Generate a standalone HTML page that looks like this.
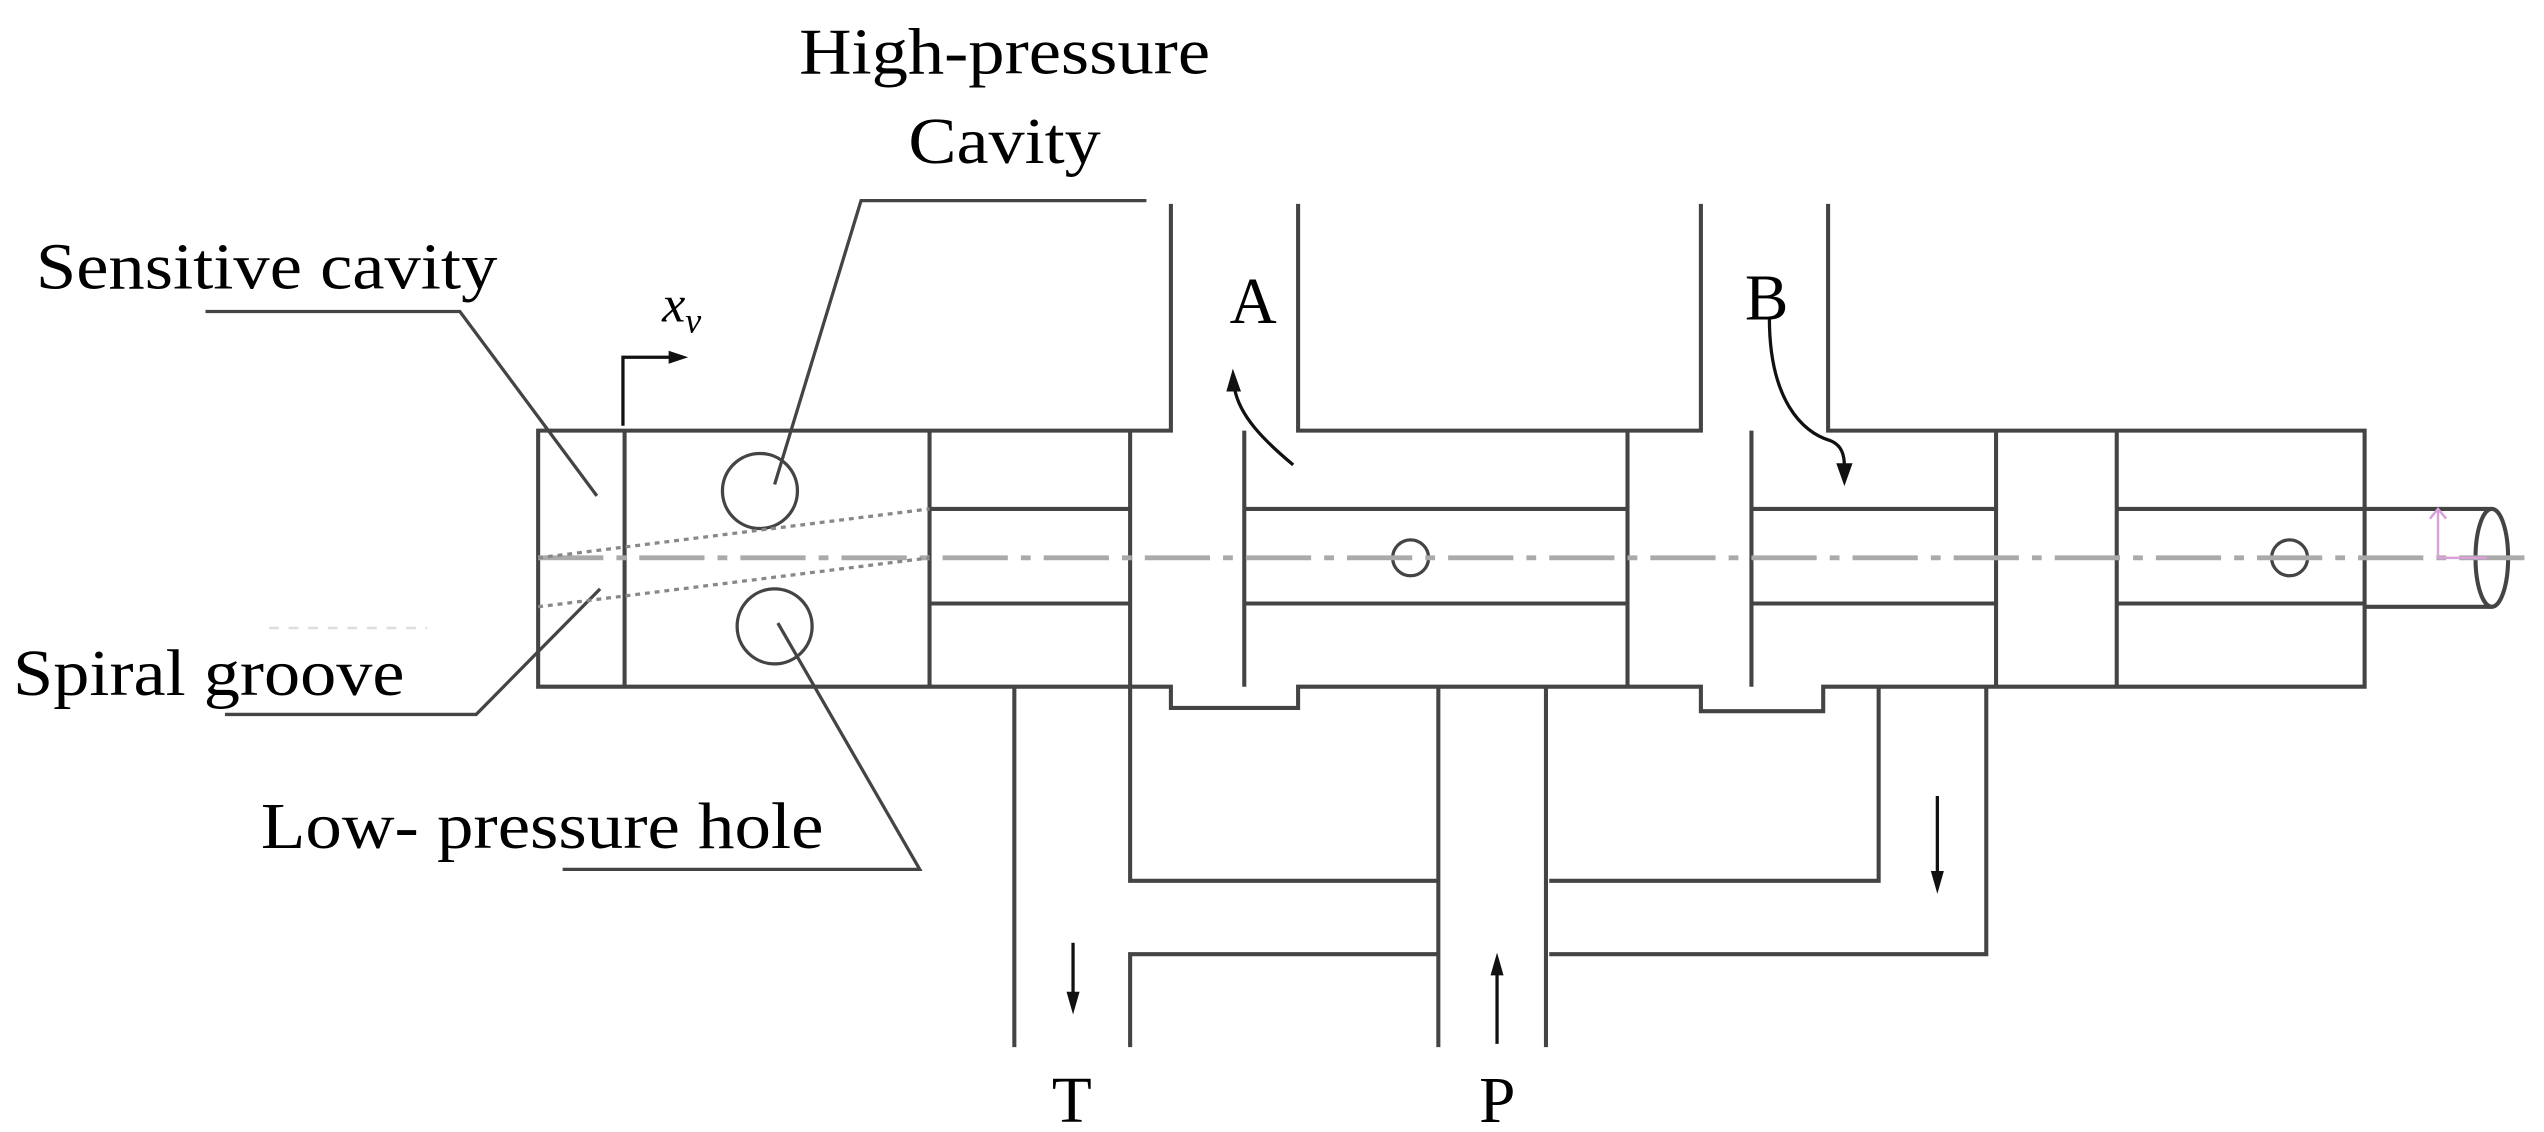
<!DOCTYPE html>
<html><head><meta charset="utf-8"><style>
html,body{margin:0;padding:0;background:#fff;}
svg{display:block;}
text{font-family:"Liberation Serif",serif;fill:#000;}
</style></head><body>
<svg width="2544" height="1132" viewBox="0 0 1560 694" preserveAspectRatio="none" xmlns="http://www.w3.org/2000/svg">
<g stroke="#444" stroke-width="2.5" fill="none">
<polyline points="718,125 718,264 330,264 330,421 718,421 718,434 796,434 796,421 1043,421 1043,436 1118,436 1118,421 1450,421 1450,264 1121,264 1121,125"/>
<polyline points="796,125 796,264 1043,264 1043,125"/>
<line x1="383" y1="264" x2="383" y2="421"/>
<line x1="570" y1="264" x2="570" y2="421"/>
<line x1="693" y1="264" x2="693" y2="421"/>
<line x1="763" y1="264" x2="763" y2="421"/>
<line x1="998" y1="264" x2="998" y2="421"/>
<line x1="1074" y1="264" x2="1074" y2="421"/>
<line x1="1224" y1="264" x2="1224" y2="421"/>
<line x1="1298" y1="264" x2="1298" y2="421"/>
<line x1="570" y1="312" x2="693" y2="312"/><line x1="570" y1="370" x2="693" y2="370"/>
<line x1="763" y1="312" x2="998" y2="312"/><line x1="763" y1="370" x2="998" y2="370"/>
<line x1="1074" y1="312" x2="1224" y2="312"/><line x1="1074" y1="370" x2="1224" y2="370"/>
<line x1="1298" y1="312" x2="1450" y2="312"/><line x1="1298" y1="370" x2="1450" y2="370"/>
<line x1="1450" y1="312" x2="1528" y2="312"/><line x1="1450" y1="372" x2="1528" y2="372"/>
<ellipse cx="1528" cy="342" rx="10" ry="30"/>
<line x1="622" y1="421" x2="622" y2="642"/>
<polyline points="693,421 693,540 882,540"/>
<polyline points="693,642 693,585 882,585"/>
<line x1="882" y1="421" x2="882" y2="642"/>
<line x1="948" y1="421" x2="948" y2="642"/>
<polyline points="950,540 1152,540 1152,421"/>
<polyline points="950,585 1218,585 1218,421"/>
<circle cx="466" cy="301" r="23" stroke-width="2"/>
<circle cx="475" cy="384" r="23" stroke-width="2"/>
<circle cx="865" cy="342" r="11" stroke-width="2"/>
<circle cx="1404" cy="342" r="11" stroke-width="2"/>
<polyline points="126,191 282,191 366,304" stroke-width="2"/>
<polyline points="138,438 292,438 368,361" stroke-width="2"/>
<polyline points="345,533 564,533 477,382" stroke-width="2"/>
<polyline points="703,123 528,123 475,297" stroke-width="2"/>
</g>
<line x1="330" y1="342" x2="1552" y2="342" stroke="#aaa" stroke-width="3" stroke-dasharray="40,8,6,8"/>
<line x1="330" y1="342" x2="570" y2="312" stroke="#888" stroke-width="2" stroke-dasharray="3,3"/>
<line x1="330" y1="372" x2="570" y2="342" stroke="#888" stroke-width="2" stroke-dasharray="3,3"/>
<line x1="165" y1="385" x2="262" y2="385" stroke="#ddd" stroke-width="1.5" stroke-dasharray="6,6"/>
<path d="M1495,342 L1495,312 M1490,318 L1495,312 L1500,318 M1495,342 L1525,342" stroke="#d9a0d9" stroke-width="1.5" fill="none"/>
<g stroke="#111" stroke-width="2" fill="none">
<polyline points="382,261 382,219 412,219"/>
<line x1="658" y1="578" x2="658" y2="612"/>
<line x1="918" y1="640" x2="918" y2="594"/>
<line x1="1188" y1="488" x2="1188" y2="538"/>
<path d="M793,285 C775,270 760,255 757,238"/>
<path d="M1085,195 C1085,245 1105,265 1122,270 C1130,273 1131,280 1131,286"/>
</g>
<g fill="#111">
<path d="M410,215 L422,219 L410,223 z"/>
<path d="M654,608 L658,622 L662,608 z"/>
<path d="M914,598 L918,584 L922,598 z"/>
<path d="M1184,534 L1188,548 L1192,534 z"/>
<path d="M752,240 L756,226 L761,240 z"/>
<path d="M1126,284 L1131,298 L1136,284 z"/>
</g>
<g font-size="40">
<text x="490" y="45" textLength="252" lengthAdjust="spacingAndGlyphs">High-pressure</text>
<text x="557" y="100" textLength="118" lengthAdjust="spacingAndGlyphs">Cavity</text>
<text x="22" y="177" textLength="283" lengthAdjust="spacingAndGlyphs">Sensitive cavity</text>
<text x="8" y="426" textLength="240" lengthAdjust="spacingAndGlyphs">Spiral groove</text>
<text x="160" y="520" textLength="345" lengthAdjust="spacingAndGlyphs">Low- pressure hole</text>
<text x="754" y="198">A</text>
<text x="1070" y="196">B</text>
<text x="645" y="688">T</text>
<text x="907" y="688">P</text>
</g>
<text x="406" y="197" font-size="32" font-style="italic">x<tspan font-size="22" dy="7">v</tspan></text>
</svg>
</body></html>
